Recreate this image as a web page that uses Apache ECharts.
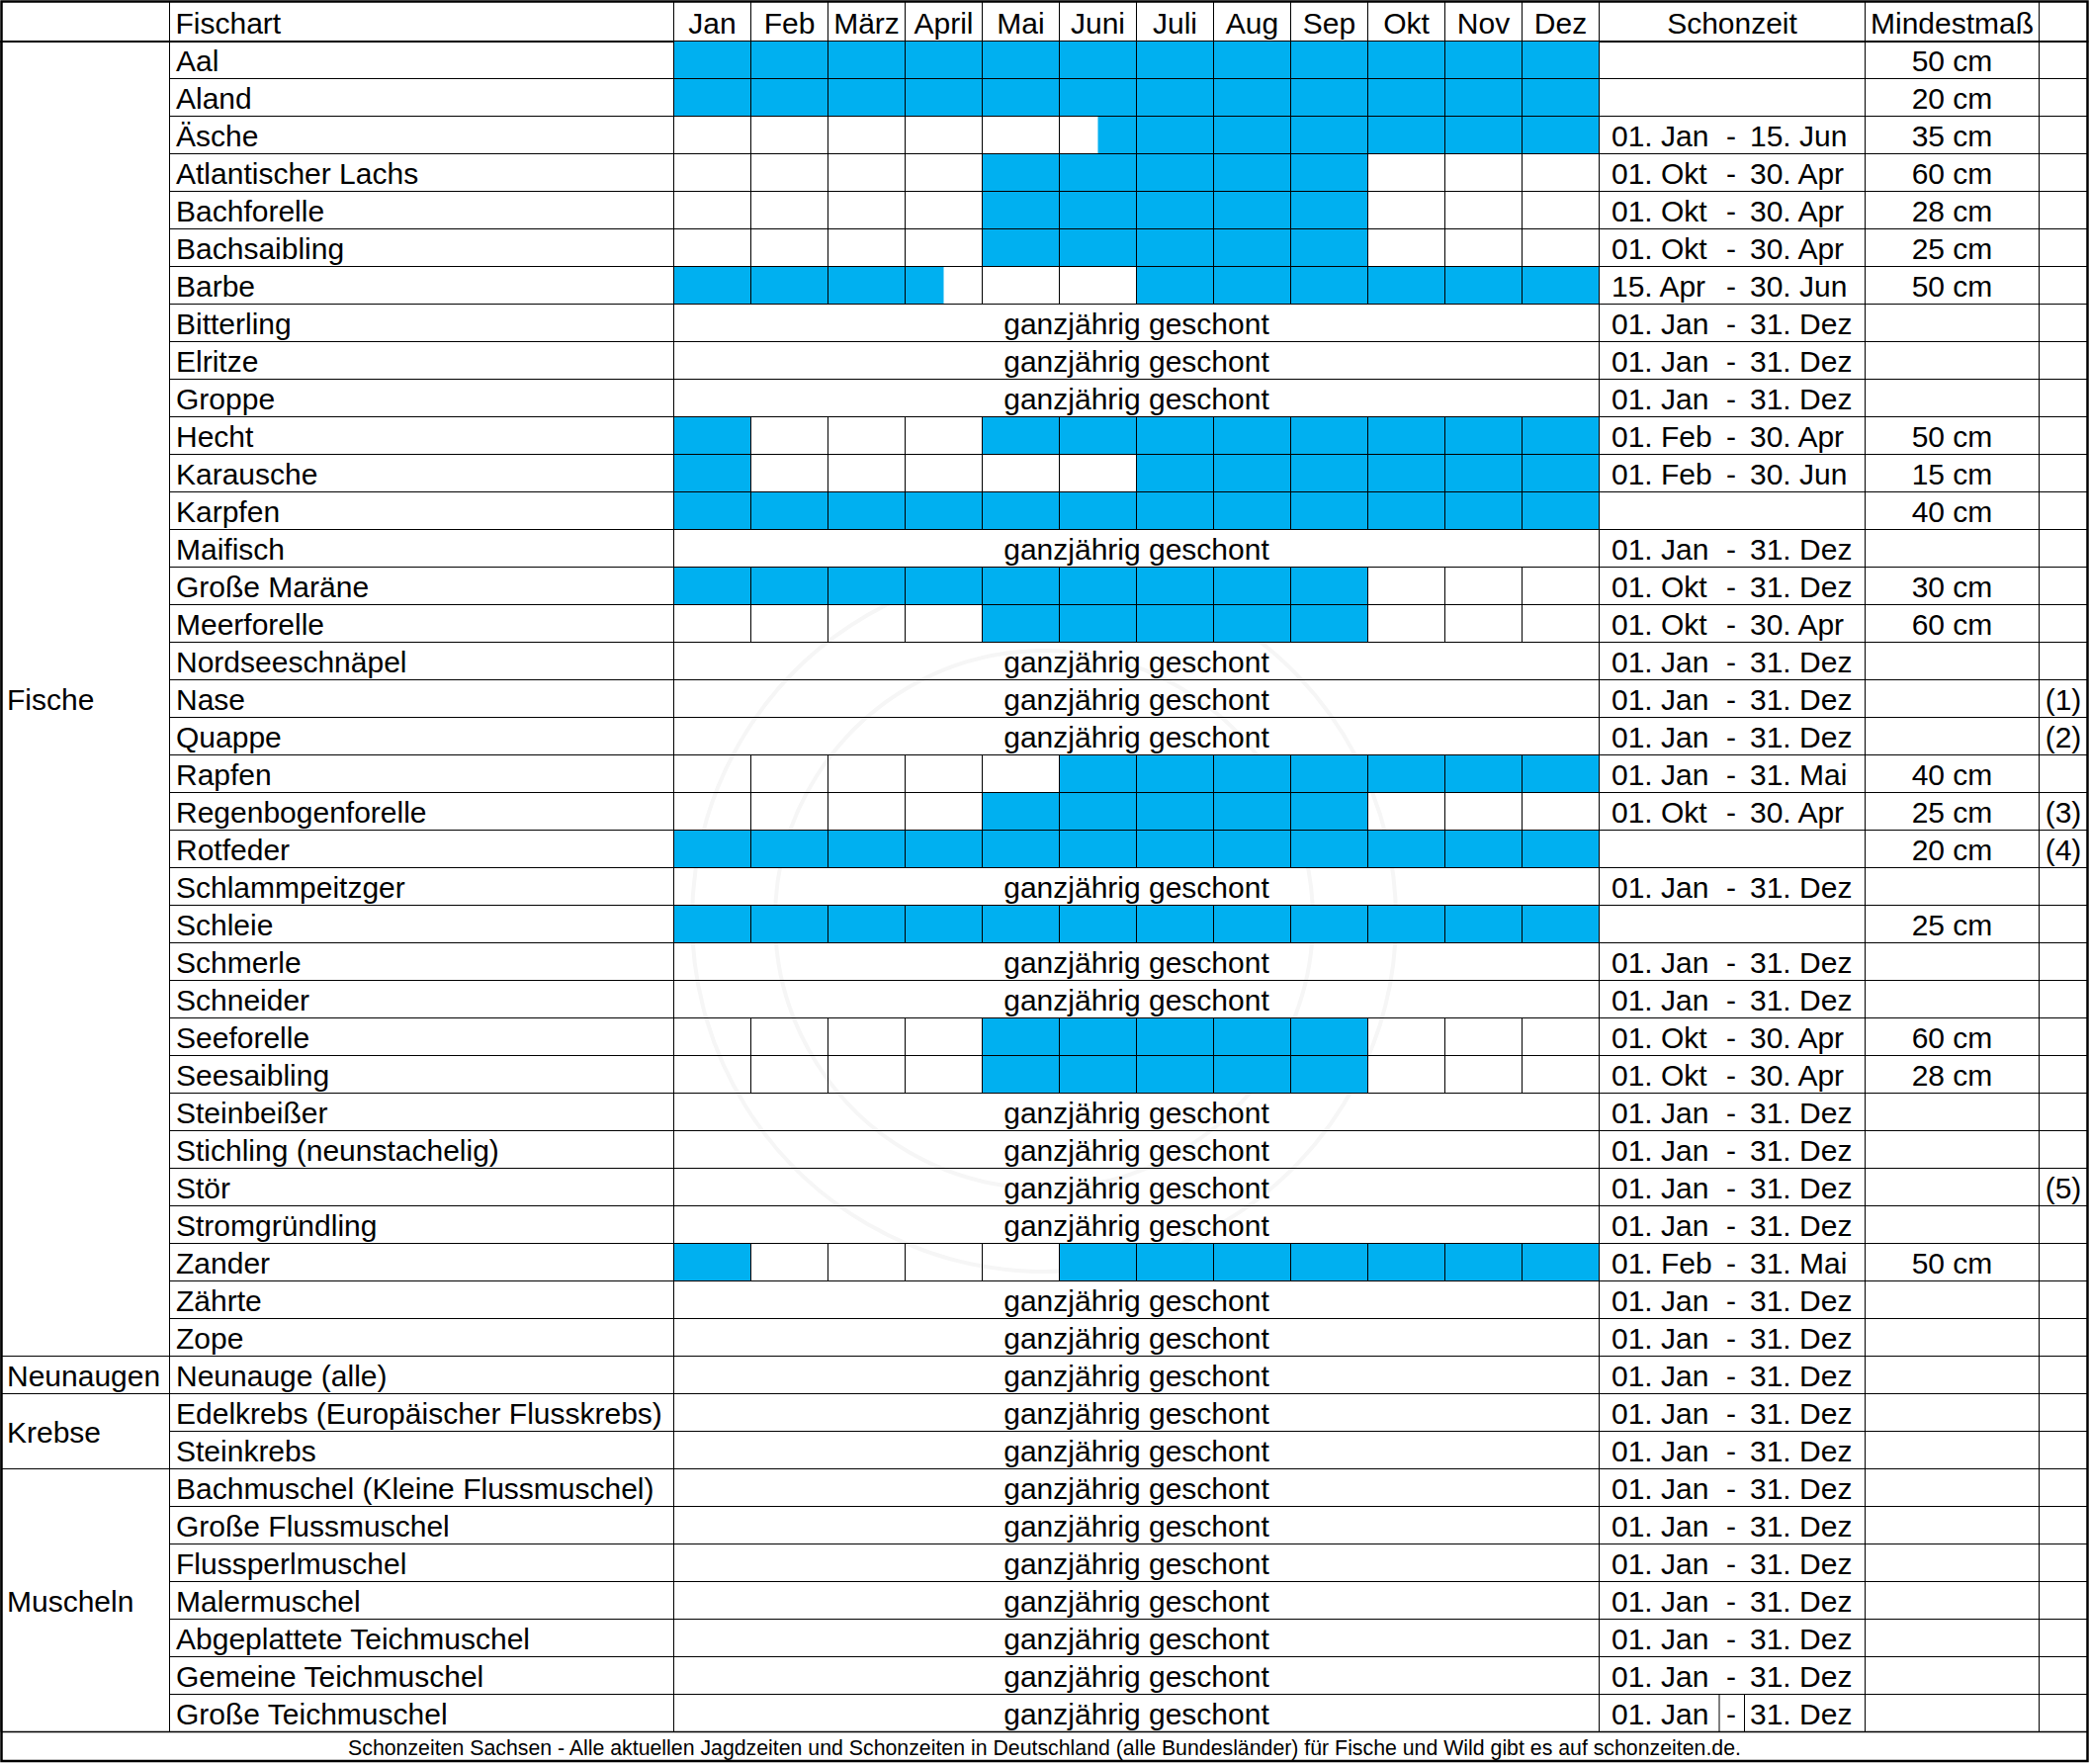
<!DOCTYPE html>
<html>
<head>
<meta charset="utf-8">
<style>
html,body{margin:0;padding:0;background:#fff;}
#chart{width:2114px;height:1784px;}
</style>
<script src="https://cdn.jsdelivr.net/npm/echarts@6/dist/echarts.min.js"></script>
</head>
<body>
<div id="chart"></div>
<script>
// ---------------- DATA ----------------
const months = ['Jan','Feb','März','April','Mai','Juni','Juli','Aug','Sep','Okt','Nov','Dez'];

const groups = ['Fische','Neunaugen','Krebse','Muscheln'];
const groupSizes = [35, 1, 2, 7];

const species = [
  'Aal','Aland','Äsche','Atlantischer Lachs','Bachforelle','Bachsaibling','Barbe',
  'Bitterling','Elritze','Groppe','Hecht','Karausche','Karpfen','Maifisch',
  'Große Maräne','Meerforelle','Nordseeschnäpel','Nase','Quappe','Rapfen',
  'Regenbogenforelle','Rotfeder','Schlammpeitzger','Schleie','Schmerle','Schneider',
  'Seeforelle','Seesaibling','Steinbeißer','Stichling (neunstachelig)','Stör',
  'Stromgründling','Zander','Zährte','Zope',
  'Neunauge (alle)',
  'Edelkrebs (Europäischer Flusskrebs)','Steinkrebs',
  'Bachmuschel (Kleine Flussmuschel)','Große Flussmuschel','Flussperlmuschel',
  'Malermuschel','Abgeplattete Teichmuschel','Gemeine Teichmuschel','Große Teichmuschel'
];

// open (fishing) season, in months from 0 (1 Jan) to 12 (31 Dec); null = ganzjährig geschont
const openSeason = [
  [[0,12]], [[0,12]], [[5.5,12]], [[4,9]], [[4,9]], [[4,9]], [[0,3.5],[6,12]],
  null, null, null, [[0,1],[4,12]], [[0,1],[6,12]], [[0,12]], null,
  [[0,9]], [[4,9]], null, null, null, [[5,12]],
  [[4,9]], [[0,12]], null, [[0,12]], null, null,
  [[4,9]], [[4,9]], null, null, null,
  null, [[0,1],[5,12]], null, null,
  null,
  null, null,
  null, null, null, null, null, null, null
];

const schonzeitVon = [
  '','','01. Jan','01. Okt','01. Okt','01. Okt','15. Apr',
  '01. Jan','01. Jan','01. Jan','01. Feb','01. Feb','','01. Jan',
  '01. Okt','01. Okt','01. Jan','01. Jan','01. Jan','01. Jan',
  '01. Okt','','01. Jan','','01. Jan','01. Jan',
  '01. Okt','01. Okt','01. Jan','01. Jan','01. Jan',
  '01. Jan','01. Feb','01. Jan','01. Jan',
  '01. Jan',
  '01. Jan','01. Jan',
  '01. Jan','01. Jan','01. Jan','01. Jan','01. Jan','01. Jan','01. Jan'
];
const schonzeitBis = [
  '','','15. Jun','30. Apr','30. Apr','30. Apr','30. Jun',
  '31. Dez','31. Dez','31. Dez','30. Apr','30. Jun','','31. Dez',
  '31. Dez','30. Apr','31. Dez','31. Dez','31. Dez','31. Mai',
  '30. Apr','','31. Dez','','31. Dez','31. Dez',
  '30. Apr','30. Apr','31. Dez','31. Dez','31. Dez',
  '31. Dez','31. Mai','31. Dez','31. Dez',
  '31. Dez',
  '31. Dez','31. Dez',
  '31. Dez','31. Dez','31. Dez','31. Dez','31. Dez','31. Dez','31. Dez'
];

const mindestmass = [
  '50 cm','20 cm','35 cm','60 cm','28 cm','25 cm','50 cm',
  '','','','50 cm','15 cm','40 cm','',
  '30 cm','60 cm','','','','40 cm',
  '25 cm','20 cm','','25 cm','','',
  '60 cm','28 cm','','','',
  '','50 cm','','',
  '',
  '','',
  '','','','','','',''
];

const anmerkung = [
  '','','','','','','',
  '','','','','','','',
  '','','','(1)','(2)','',
  '(3)','(4)','','','','',
  '','','','','(5)',
  '','','','',
  '',
  '','',
  '','','','','','',''
];

const headerArt = 'Fischart';
const headerSchonzeit = 'Schonzeit';
const headerMass = 'Mindestmaß';
const ganzjaehrig = 'ganzjährig geschont';
const footerText = 'Schonzeiten Sachsen - Alle aktuellen Jagdzeiten und Schonzeiten in Deutschland (alle Bundesländer) für Fische und Wild gibt es auf schonzeiten.de.';

// ---------------- LAYOUT / STYLE ----------------
const FONT = '"Liberation Sans", Arial, Helvetica, sans-serif';
const FS = 30;
const BLUE = '#00B0F0';
const TOP = 41.5, ROWH = 38;
const N = species.length;
const H = ROWH * N;
const COLS = [1, 171.5, 681.5, 1617.5, 1886.5, 2062.5, 2111.5];
const TXT_DY = 1.2;

const rowIdx = species.map((_, i) => String(i));

// derived series data
const blueData = [];
openSeason.forEach((iv, r) => { if (iv) iv.forEach(p => blueData.push([p[0], p[1], r])); });
const cellData = [];
openSeason.forEach((iv, r) => { if (iv) months.forEach((m, k) => cellData.push([k, r])); });
const ganzData = [];
openSeason.forEach((iv, r) => { if (!iv) ganzData.push([6, r]); });
const groupData = [];
let acc = 0;
groups.forEach((g, i) => { groupData.push([0, acc, acc + groupSizes[i] - 1, g]); acc += groupSizes[i]; });
const artData = species.map((s, r) => [0, r, s]);
const schonData = species.map((s, r) => [0, r, schonzeitVon[r], schonzeitBis[r]]);
const massData = species.map((s, r) => [0, r, mindestmass[r]]);
const anmData = species.map((s, r) => [0, r, anmerkung[r]]);

const grids = [];
for (let i = 0; i < COLS.length - 1; i++) {
  grids.push({left: COLS[i], width: COLS[i + 1] - COLS[i], top: TOP, height: H, containLabel: false});
}

function headAxis(gi, data, extra) {
  return Object.assign({
    type: 'category', gridIndex: gi, position: 'top', data: data, boundaryGap: true,
    axisLine: {show: true, onZero: false, lineStyle: {color: '#000', width: 2}},
    axisTick: {show: true, length: 40, interval: 0, lineStyle: {color: '#000', width: 1}},
    axisLabel: {show: true, interval: 0, margin: 3, fontSize: FS, fontFamily: FONT, color: '#000'},
    splitLine: {show: false}
  }, extra || {});
}
function yAx(gi, extra) {
  return Object.assign({
    type: 'category', gridIndex: gi, data: rowIdx, inverse: true, boundaryGap: true,
    axisTick: {show: false},
    axisLabel: {show: false},
    axisLine: {show: true, onZero: false, lineStyle: {color: '#000', width: 1}},
    splitLine: {show: true, interval: 0, lineStyle: {color: '#000', width: 1}}
  }, extra || {});
}

function txt(text, x, y, align) {
  return {type: 'text', style: {text: text, x: x, y: y, fill: '#000', fontSize: FS, fontFamily: FONT,
    align: align || 'left', verticalAlign: 'middle'}};
}

const option = {
  animation: false,
  backgroundColor: '#fff',
  grid: grids,
  xAxis: [
    headAxis(0, ['']),
    headAxis(1, [headerArt, ''], {boundaryGap: false,
      axisLabel: {show: true, interval: 0, margin: 3, fontSize: FS, fontFamily: FONT, color: '#000', align: 'left', padding: [0, 0, 0, 6]}}),
    {type: 'value', gridIndex: 2, min: 0, max: 12, show: false},
    headAxis(2, months),
    headAxis(3, [headerSchonzeit]),
    headAxis(4, [headerMass]),
    headAxis(5, [''])
  ],
  yAxis: [
    yAx(0, {axisLine: {show: false}, splitLine: {show: false}}),
    yAx(1, {data: species}),
    yAx(2),
    yAx(3),
    yAx(4),
    yAx(5)
  ],
  graphic: [
    // faint watermark
    {type: 'circle', z: -10, shape: {cx: 1056, cy: 930, r: 356}, style: {fill: 'none', stroke: '#f6f6f6', lineWidth: 4}, silent: true},
    {type: 'circle', z: -10, shape: {cx: 1056, cy: 930, r: 272}, style: {fill: 'none', stroke: '#f6f6f6', lineWidth: 4}, silent: true},
    // footer
    {type: 'line', z: 50, shape: {x1: 1, y1: TOP + H, x2: 2112, y2: TOP + H}, style: {stroke: '#000', lineWidth: 1.5}},
    {type: 'text', z: 50, x: 1056.5, y: TOP + H + 16, style: {text: footerText, fontSize: 21.3, fontFamily: FONT,
      fill: '#000', align: 'center', verticalAlign: 'middle'}},
    // outer border
    {type: 'rect', z: 60, shape: {x: 1.5, y: 1.5, width: 2110, height: 1779.5},
      style: {fill: 'none', stroke: '#000', lineWidth: 2.5}}
  ],
  series: [
    {
      name: 'Gruppe', type: 'custom', xAxisIndex: 0, yAxisIndex: 0, data: groupData,
      encode: {x: 0, y: 1},
      renderItem: function (params, api) {
        const a = api.coord([0, api.value(1)]);
        const b = api.coord([0, api.value(2)]);
        const h = api.size([0, 1])[1];
        const cs = params.coordSys;
        const y0 = a[1] - h / 2, y1 = b[1] + h / 2;
        return {type: 'group', children: [
          {type: 'rect', shape: {x: cs.x, y: y0, width: cs.width, height: y1 - y0},
            style: {fill: 'none', stroke: '#000', lineWidth: 1}},
          txt(groupData[params.dataIndex][3], cs.x + 6, (y0 + y1) / 2 + TXT_DY)
        ]};
      }
    },
    {
      name: 'Fischart', type: 'custom', xAxisIndex: 1, yAxisIndex: 1, data: artData,
      encode: {x: 0, y: 1},
      renderItem: function (params, api) {
        const p = api.coord([0, api.value(1)]);
        const cs = params.coordSys;
        return txt(artData[params.dataIndex][2], cs.x + 6.5, p[1] + TXT_DY, 'left');
      }
    },
    {
      name: 'Fangzeit', type: 'custom', xAxisIndex: 2, yAxisIndex: 2, data: blueData,
      encode: {x: [0, 1], y: 2},
      renderItem: function (params, api) {
        const s = api.coord([api.value(0), api.value(2)]);
        const e = api.coord([api.value(1), api.value(2)]);
        const h = api.size([0, 1])[1];
        return {type: 'rect', shape: {x: s[0], y: s[1] - h / 2, width: e[0] - s[0], height: h},
          style: {fill: BLUE}};
      }
    },
    {
      name: 'Monate', type: 'custom', xAxisIndex: 2, yAxisIndex: 2, data: cellData,
      encode: {x: 0, y: 1}, z: 3,
      renderItem: function (params, api) {
        const s = api.coord([api.value(0), api.value(1)]);
        const e = api.coord([api.value(0) + 1, api.value(1)]);
        const h = api.size([0, 1])[1];
        return {type: 'rect', shape: {x: s[0], y: s[1] - h / 2, width: e[0] - s[0], height: h},
          style: {fill: 'none', stroke: '#000', lineWidth: 1}};
      }
    },
    {
      name: 'Ganzjährig', type: 'custom', xAxisIndex: 2, yAxisIndex: 2, data: ganzData,
      encode: {x: 0, y: 1},
      renderItem: function (params, api) {
        const p = api.coord([api.value(0), api.value(1)]);
        return txt(ganzjaehrig, p[0], p[1] + TXT_DY, 'center');
      }
    },
    {
      name: 'Schonzeit', type: 'custom', xAxisIndex: 4, yAxisIndex: 3, data: schonData,
      encode: {x: 0, y: 1},
      renderItem: function (params, api) {
        const r = api.value(1);
        const p = api.coord([0, r]);
        const cs = params.coordSys;
        const h = api.size([0, 1])[1];
        const d = schonData[params.dataIndex];
        const ch = [];
        if (d[2]) {
          ch.push(txt(d[2], cs.x + 12.5, p[1] + TXT_DY, 'left'));
          ch.push(txt('-', p[0] - 1, p[1] + TXT_DY, 'center'));
          ch.push(txt(d[3], p[0] + 18, p[1] + TXT_DY, 'left'));
        }
        if (r === N - 1) {
          [121.5, 147].forEach(dx => ch.push({type: 'line',
            shape: {x1: cs.x + dx, y1: p[1] - h / 2, x2: cs.x + dx, y2: p[1] + h / 2},
            style: {stroke: '#000', lineWidth: 1}}));
        }
        return {type: 'group', children: ch};
      }
    },
    {
      name: 'Mindestmaß', type: 'custom', xAxisIndex: 5, yAxisIndex: 4, data: massData,
      encode: {x: 0, y: 1},
      renderItem: function (params, api) {
        const p = api.coord([0, api.value(1)]);
        return txt(massData[params.dataIndex][2], p[0], p[1] + TXT_DY, 'center');
      }
    },
    {
      name: 'Anmerkung', type: 'custom', xAxisIndex: 6, yAxisIndex: 5, data: anmData,
      encode: {x: 0, y: 1},
      renderItem: function (params, api) {
        const p = api.coord([0, api.value(1)]);
        return txt(anmData[params.dataIndex][2], p[0], p[1] + TXT_DY, 'center');
      }
    }
  ]
};

const chart = echarts.init(document.getElementById('chart'), null, {renderer: 'svg', width: 2114, height: 1784});
chart.setOption(option);
</script>
</body>
</html>
